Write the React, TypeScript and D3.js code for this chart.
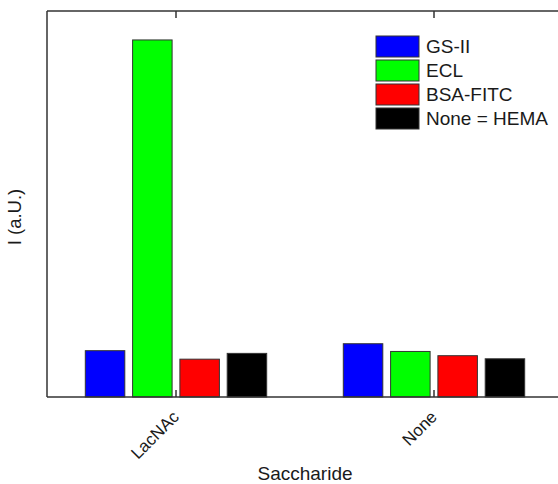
import React from "react";
import * as d3 from "d3";

// Saccharide categories on the x axis
const categories = ["LacNAc", "None"];
// Lectin / control series, in legend order
const seriesNames = ["GS-II", "ECL", "BSA-FITC", "None = HEMA"];
const seriesColors = ["#0000ff", "#00ff00", "#ff0000", "#000000"];
// Intensity (a.U.) per series, one value per category
const gs2Values = [12.0, 13.8];
const eclValues = [92.5, 11.8];
const bsaValues = [9.8, 10.7];
const hemaValues = [11.3, 9.9];

const seriesValues = [gs2Values, eclValues, bsaValues, hemaValues];

const W = 558;
const H = 484;
const plot = { left: 47, top: 11, right: 563, bottom: 397 };
const FONT = "'Liberation Sans', Arial, Helvetica, sans-serif";
const AXIS_COLOR = "#333";
const TEXT_COLOR = "#1a1a1a";

export default function App() {
  const x0 = d3
    .scaleBand<string>()
    .domain(categories)
    .range([plot.left, plot.right])
    .padding(0);

  const step = x0.step();
  const groupWidth = 189.2;
  const x1 = d3
    .scaleBand<string>()
    .domain(seriesNames)
    .range([-groupWidth / 2, groupWidth / 2])
    .paddingInner(0.165)
    .paddingOuter(0.0825);

  const y = d3.scaleLinear().domain([0, 100]).range([plot.bottom, plot.top]);

  const legendX = 376;
  const legendY = 36;
  const legendStep = 24;

  return (
    <svg
      width={W}
      height={H}
      style={{ position: "absolute", left: 0, top: 0, background: "#fff" }}
      fontFamily={FONT}
    >
      {/* bars */}
      {categories.map((cat, ci) => {
        const cx = (x0(cat) ?? 0) + step / 2;
        return (
          <g key={cat}>
            {seriesNames.map((s, si) => {
              const v = seriesValues[si][ci];
              const bx = cx + (x1(s) ?? 0);
              return (
                <rect
                  key={s}
                  x={bx}
                  y={y(v)}
                  width={x1.bandwidth()}
                  height={plot.bottom - y(v)}
                  fill={seriesColors[si]}
                  stroke="#333"
                  strokeWidth={1}
                />
              );
            })}
          </g>
        );
      })}

      {/* frame */}
      <line x1={plot.left} x2={W} y1={plot.top} y2={plot.top} stroke={AXIS_COLOR} strokeWidth={1.5} />
      <line x1={plot.left} x2={W} y1={plot.bottom} y2={plot.bottom} stroke={AXIS_COLOR} strokeWidth={1.5} />
      <line x1={plot.left} x2={plot.left} y1={plot.top} y2={plot.bottom} stroke={AXIS_COLOR} strokeWidth={1.5} />

      {/* category ticks and labels */}
      {categories.map((cat) => {
        const cx = (x0(cat) ?? 0) + step / 2;
        const lx = cx + 4;
        const ly = plot.bottom + 21;
        return (
          <g key={cat}>
            <line x1={cx} x2={cx} y1={plot.bottom} y2={plot.bottom - 7} stroke={AXIS_COLOR} strokeWidth={1.5} />
            <line x1={cx} x2={cx} y1={plot.top} y2={plot.top + 7} stroke={AXIS_COLOR} strokeWidth={1.5} />
            <text
              x={lx}
              y={ly}
              textAnchor="end"
              fontSize={17}
              fill={TEXT_COLOR}
              transform={`rotate(-45 ${lx} ${ly})`}
            >
              {cat}
            </text>
          </g>
        );
      })}

      {/* axis titles */}
      <text x={305} y={480} textAnchor="middle" fontSize={19} fill={TEXT_COLOR}>
        Saccharide
      </text>
      <text
        x={0}
        y={0}
        textAnchor="middle"
        fontSize={18.5}
        fill={TEXT_COLOR}
        transform={`translate(21 217) rotate(-90)`}
      >
        I (a.U.)
      </text>

      {/* legend */}
      {seriesNames.map((s, i) => (
        <g key={s} transform={`translate(${legendX} ${legendY + i * legendStep})`}>
          <rect x={0} y={0} width={43} height={21} fill={seriesColors[i]} stroke="#333" strokeWidth={1} />
          <text x={50} y={17} fontSize={19} fill={TEXT_COLOR}>
            {s}
          </text>
        </g>
      ))}
    </svg>
  );
}
